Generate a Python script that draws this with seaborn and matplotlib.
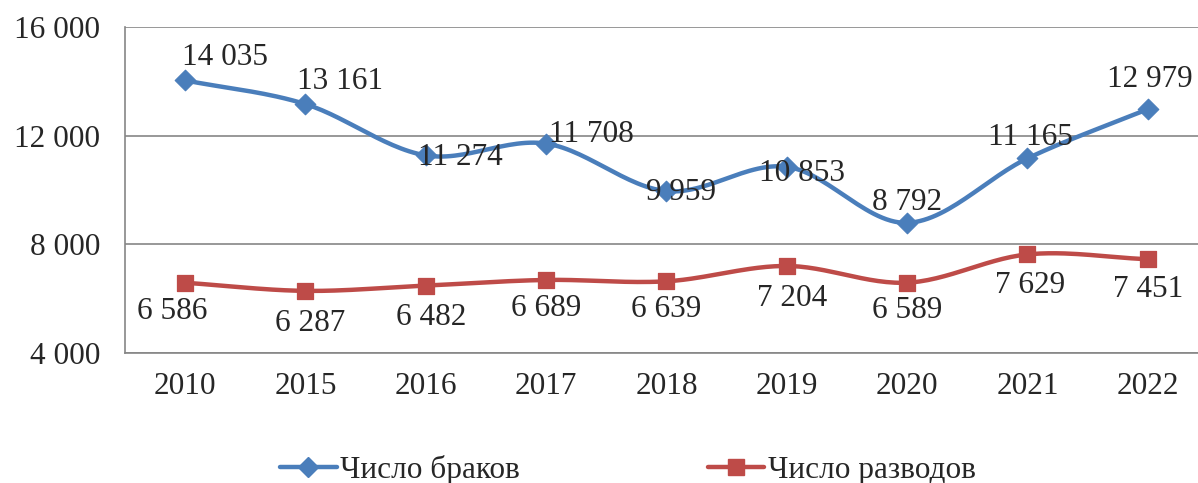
import numpy as np
import pandas as pd
import matplotlib
matplotlib.use("Agg")
import matplotlib.pyplot as plt
import seaborn as sns
from matplotlib.lines import Line2D

# Data
years = ["2010", "2015", "2016", "2017", "2018", "2019", "2020", "2021", "2022"]
marriages = [14035, 13161, 11274, 11708, 9959, 10853, 8792, 11165, 12979]
divorces = [6586, 6287, 6482, 6689, 6639, 7204, 6589, 7629, 7451]
yticks = [4000, 8000, 12000, 16000]
ytick_labels = ["4 000", "8 000", "12 000", "16 000"]

# label offsets in pixels (dx, dy)
blue_off = [(40, 23), (35, 23), (35, -2), (45, 9), (15, -1), (15, -7), (0, 20), (3, 21), (2, 30)]
red_off = [(-13, -29), (5, -33), (5, -32), (0, -29), (0, -28), (5, -33), (0, -28), (3, -31), (0, -30)]

sns.set_style("white")
plt.rcParams["font.family"] = ["Liberation Serif", "DejaVu Serif"]

BLUE = "#4A7EBB"
RED = "#BE4B48"
FS = 22.5

df = pd.DataFrame({"x": np.arange(len(years)), "m": marriages, "d": divorces})


def smooth(x, y, n=30):
    # Catmull-Rom smoothing for drawing the curve (like Excel smoothed lines)
    x = np.asarray(x, float)
    y = np.asarray(y, float)
    px = np.concatenate([[2 * x[0] - x[1]], x, [2 * x[-1] - x[-2]]])
    py = np.concatenate([[2 * y[0] - y[1]], y, [2 * y[-1] - y[-2]]])
    xs, ys = [], []
    t = np.linspace(0, 1, n)
    for i in range(1, len(px) - 2):
        for p, out in ((px, xs), (py, ys)):
            p0, p1, p2, p3 = p[i - 1], p[i], p[i + 1], p[i + 2]
            out.extend(0.5 * ((2 * p1) + (-p0 + p2) * t
                              + (2 * p0 - 5 * p1 + 4 * p2 - p3) * t ** 2
                              + (-p0 + 3 * p1 - 3 * p2 + p3) * t ** 3))
    return xs, ys


fig = plt.figure(figsize=(11.98, 4.83), dpi=100)
ax = fig.add_axes([125 / 1198, 1 - 353 / 483, 1 - 125 / 1198, (353 - 27) / 483])

sx, sy = smooth(df["x"], df["m"])
ax.plot(sx, sy, color=BLUE, lw=3.2, solid_capstyle="round", zorder=3)
sx, sy = smooth(df["x"], df["d"])
ax.plot(sx, sy, color=RED, lw=3.2, solid_capstyle="round", zorder=3)

sns.scatterplot(data=df, x="x", y="m", marker="D", s=110, color=BLUE,
                edgecolor=BLUE, ax=ax, zorder=4)
sns.scatterplot(data=df, x="x", y="d", marker="s", s=130, color=RED,
                edgecolor=RED, ax=ax, zorder=4)

for i in range(len(years)):
    ax.annotate(f"{marriages[i]:,}".replace(",", " "), (i, marriages[i]),
                xytext=blue_off[i], textcoords="offset pixels",
                ha="center", va="center", fontsize=FS, zorder=5)
    ax.annotate(f"{divorces[i]:,}".replace(",", " "), (i, divorces[i]),
                xytext=red_off[i], textcoords="offset pixels",
                ha="center", va="center", fontsize=FS, zorder=5)

ax.set_xlim(-0.5, 8.5 - 10 / 120.4)
ax.set_ylim(4000, 16000)
ax.set_xticks(range(len(years)))
ax.set_xticklabels(years, fontsize=FS)
ax.set_xticks(np.arange(-0.5, 8.5, 1), minor=True)
ax.tick_params(axis="x", which="major", length=0, pad=14)
ax.tick_params(axis="x", which="minor", length=8, width=1.2, color="#868686", direction="out")
ax.set_yticks(yticks)
ax.set_yticklabels(ytick_labels, fontsize=FS)
ax.tick_params(axis="y", length=10, width=1.2, color="#868686", direction="out", pad=8)
ax.set_xlabel("")
ax.set_ylabel("")

ax.grid(axis="y", color="#868686", lw=1.2)
ax.set_axisbelow(True)
for s in ["top", "right"]:
    ax.spines[s].set_visible(False)
for s in ["left", "bottom"]:
    ax.spines[s].set_color("#868686")
    ax.spines[s].set_linewidth(1.2)

handles = [
    Line2D([], [], color=BLUE, lw=3.2, marker="D", markersize=10, solid_capstyle="round"),
    Line2D([], [], color=RED, lw=3.2, marker="s", markersize=11, solid_capstyle="round"),
]
fig.legend(handles, ["Число браков", "Число разводов"], loc="center",
           bbox_to_anchor=(628 / 1198, 1 - 470 / 483), ncol=2, frameon=False,
           fontsize=FS, handlelength=1.8, handletextpad=0.12, columnspacing=6.0)

fig.savefig("out.png", dpi=100)
